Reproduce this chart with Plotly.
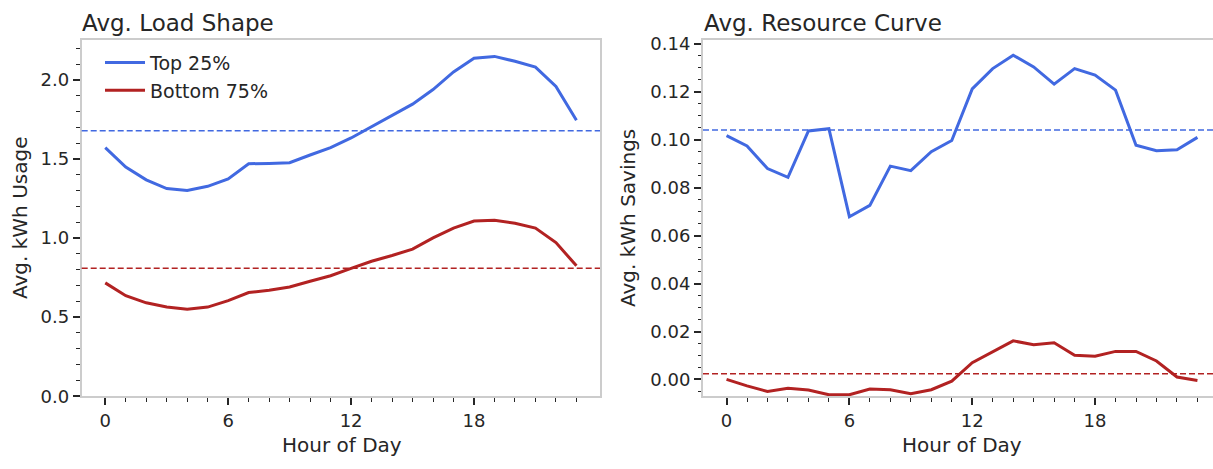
import plotly.graph_objects as go

# ---------------- data ----------------
hours = list(range(24))
series_names = ["Top 25%", "Bottom 75%"]

load_top25 = [1.573, 1.450, 1.369, 1.314, 1.302, 1.328, 1.375, 1.471, 1.473, 1.477,
              1.526, 1.573, 1.634, 1.705, 1.777, 1.848, 1.940, 2.052, 2.139, 2.150,
              2.119, 2.082, 1.960, 1.746]
load_bottom75 = [0.717, 0.636, 0.591, 0.564, 0.550, 0.564, 0.605, 0.656, 0.670, 0.691,
                 0.727, 0.762, 0.809, 0.854, 0.890, 0.931, 1.002, 1.064, 1.108, 1.114,
                 1.094, 1.064, 0.972, 0.825]
savings_top25 = [0.1017, 0.0974, 0.0880, 0.0843, 0.1037, 0.1046, 0.0679, 0.0726, 0.0890, 0.0871,
                 0.0950, 0.0997, 0.1212, 0.1297, 0.1353, 0.1304, 0.1232, 0.1297, 0.1270, 0.1207,
                 0.0977, 0.0954, 0.0958, 0.1010]
savings_bottom75 = [0.0000, -0.0027, -0.0050, -0.0037, -0.0044, -0.0064, -0.0064, -0.0040, -0.0043, -0.0060,
                    -0.0043, -0.0007, 0.0070, 0.0114, 0.0161, 0.0145, 0.0153, 0.0101, 0.0097, 0.0117,
                    0.0117, 0.0077, 0.0010, -0.0004]
load_means = [1.68, 0.81]
savings_means = [0.1041, 0.0024]

x_ticks = [0, 6, 12, 18]
left_y_ticks = [0.0, 0.5, 1.0, 1.5, 2.0]
right_y_ticks = [0.00, 0.02, 0.04, 0.06, 0.08, 0.10, 0.12, 0.14]

titles = ["Avg. Load Shape", "Avg. Resource Curve"]
y_titles = ["Avg. kWh Usage", "Avg. kWh Savings"]
x_title = "Hour of Day"

# ---------------- styling ----------------
colors = ["#4169E1", "#B22222"]
TEXT = "#262626"
SPINE = "#cccccc"
FONT = "DejaVu Sans"
W, H = 1213, 469


def px(x):
    return x / W


def py(y):
    return 1 - y / H


fig = go.Figure()

for name, ys, c in zip(series_names, [load_top25, load_bottom75], colors):
    fig.add_trace(go.Scatter(x=hours, y=ys, mode="lines", name=name,
                             line=dict(color=c, width=3), xaxis="x", yaxis="y"))
for name, ys, c in zip(series_names, [savings_top25, savings_bottom75], colors):
    fig.add_trace(go.Scatter(x=hours, y=ys, mode="lines", name=name, showlegend=False,
                             line=dict(color=c, width=3), xaxis="x2", yaxis="y2"))

shapes = []
for m, c in zip(load_means, colors):
    shapes.append(dict(type="line", xref="x domain", x0=0, x1=1, yref="y", y0=m, y1=m,
                       line=dict(color=c, width=1.5, dash="6px,3px")))
for m, c in zip(savings_means, colors):
    shapes.append(dict(type="line", xref="x2 domain", x0=0, x1=1, yref="y2", y0=m, y1=m,
                       line=dict(color=c, width=1.5, dash="6px,3px")))

tick_common = dict(ticks="outside", ticklen=7, tickwidth=1.5, tickcolor=TEXT,
                   tickfont=dict(family=FONT, size=18, color=TEXT),
                   showgrid=False, zeroline=False, showline=True,
                   linecolor=SPINE, linewidth=2)
minor_common = dict(ticks="outside", ticklen=3.5, tickwidth=1.3, tickcolor=TEXT, showgrid=False)

ydom = [py(404), py(35)]

fig.update_layout(
    width=W, height=H,
    margin=dict(l=0, r=0, t=0, b=0),
    paper_bgcolor="white", plot_bgcolor="white",
    font=dict(family=FONT, color=TEXT),
    shapes=shapes,
    showlegend=True,
    legend=dict(x=px(100), y=py(39), xanchor="left", yanchor="top",
                itemwidth=40,
                bgcolor="rgba(0,0,0,0)", borderwidth=0,
                font=dict(family=FONT, size=19, color=TEXT)),
    xaxis=dict(domain=[px(81.7), px(600)], range=[-1.15, 24.15], anchor="y",
               tickmode="array", tickvals=x_ticks, mirror=True,
               minor=dict(tickmode="array", tickvals=hours, **minor_common),
               **tick_common),
    yaxis=dict(domain=ydom, range=[0, 2.255], anchor="x",
               tickmode="array", tickvals=left_y_ticks, tickformat=".1f", mirror=True,
               minor=dict(tickmode="linear", tick0=0, dtick=0.1, **minor_common),
               **tick_common),
    xaxis2=dict(domain=[px(703), 1.0], range=[-1.15, 23.76], anchor="y2",
                tickmode="array", tickvals=x_ticks, mirror=True,
                minor=dict(tickmode="array", tickvals=hours, **minor_common),
                **tick_common),
    yaxis2=dict(domain=ydom, range=[-0.0070, 0.1417], anchor="x2",
                tickmode="array", tickvals=right_y_ticks, tickformat=".2f", mirror=False,
                minor=dict(tickmode="linear", tick0=0, dtick=0.005, **minor_common),
                **tick_common),
)

ann = []
for t, xl in zip(titles, [80, 702]):
    ann.append(dict(text=t, x=px(xl), y=py(18), xref="paper", yref="paper",
                    xanchor="left", yanchor="middle", showarrow=False,
                    font=dict(family=FONT, size=23, color=TEXT)))
for t, xl in zip(y_titles, [20, 628]):
    ann.append(dict(text=t, x=px(xl), y=py(219.5), xref="paper", yref="paper",
                    xanchor="center", yanchor="middle", textangle=-90, showarrow=False,
                    font=dict(family=FONT, size=20, color=TEXT)))
for xc in [342, 962]:
    ann.append(dict(text=x_title, x=px(xc), y=py(454.5), xref="paper", yref="paper",
                    xanchor="center", yanchor="middle", showarrow=False,
                    font=dict(family=FONT, size=20, color=TEXT)))
fig.update_layout(annotations=ann)

fig.write_html("out.html", config=dict(displayModeBar=False),
               post_script="document.body.style.margin='0px';document.body.style.overflow='hidden';")
